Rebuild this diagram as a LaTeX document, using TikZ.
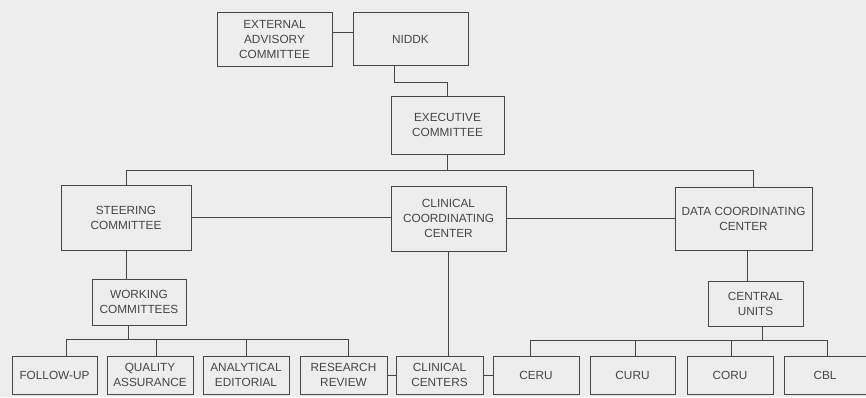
\documentclass[tikz,border=0pt]{standalone}
\usepackage{fontspec}
\setmainfont{Liberation Sans}
\definecolor{paper}{RGB}{237,237,237}
\definecolor{ink}{RGB}{70,70,70}

\begin{document}
\begin{tikzpicture}[x=1pt,y=-1pt,line width=0.8pt,draw=ink]
	\tikzset{box/.style={draw=ink,fill=paper,text=ink,inner sep=0pt,align=center,
			font=\fontsize{11.8}{15}\selectfont},
		small/.style={box,minimum height=38}}
	\useasboundingbox[fill=paper] (0,0) rectangle (866,397);

	\node[box,minimum width=115,minimum height=54] (eac) at (274.5,39) {EXTERNAL\\ADVISORY\\COMMITTEE};
	\node[box,minimum width=115,minimum height=53] (niddk) at (410.5,39) {NIDDK};
	\node[box,minimum width=113,minimum height=58] (exec) at (447.5,125) {EXECUTIVE\\COMMITTEE};
	\node[box,minimum width=130,minimum height=65] (steer) at (126,217.5) {STEERING\\COMMITTEE};
	\node[box,minimum width=115,minimum height=65] (ccc) at (448.5,218.5) {CLINICAL\\COORDINATING\\CENTER};
	\node[box,minimum width=137,minimum height=63] (dcc) at (743.5,218.5) {DATA COORDINATING\\CENTER};
	\node[box,minimum width=94,minimum height=46] (wc) at (139,302) {WORKING\\COMMITTEES};
	\node[box,minimum width=95,minimum height=45] (cu) at (755.5,303.5) {CENTRAL\\UNITS};

	\node[small,minimum width=85] (fu) at (54.5,375) {FOLLOW-UP};
	\node[small,minimum width=86] (qa) at (150,375) {QUALITY\\ASSURANCE};
	\node[small,minimum width=86] (ae) at (246,375) {ANALYTICAL\\EDITORIAL};
	\node[small,minimum width=87] (rr) at (343.5,375) {RESEARCH\\REVIEW};
	\node[small,minimum width=87] (cc) at (439.5,375) {CLINICAL\\CENTERS};
	\node[small,minimum width=86] (ceru) at (536,375) {CERU};
	\node[small,minimum width=85] (curu) at (632.5,375) {CURU};
	\node[small,minimum width=86] (coru) at (730,375) {CORU};
	\node[small,minimum width=82] (cbl) at (825,375) {CBL};

	% top of the chart
	\draw ([yshift=7]eac.east) -- ([yshift=7]niddk.west);
	\draw ([xshift=-16.5]niddk.south) -- ++(0,16) -| (exec.north);
	\draw (exec.south) -- ++(0,16) coordinate (ebus);
	\draw (steer.north) |- (ebus) -| ([xshift=9.5]dcc.north);
	\draw (steer.east) -- (steer.east -| ccc.west);
	\draw (ccc.east) -- (ccc.east -| dcc.west);

	% middle level
	\draw (steer.south) -- (steer.south |- wc.north);
	\draw (ccc.south) -- (ccc.south |- cc.north);
	\draw ([xshift=3.5]dcc.south) -- ([xshift=3.5]dcc.south |- cu.north);

	% working committees
	\draw ([xshift=-11]wc.south) -- ++(0,15);
	\draw ([xshift=11.5]fu.north) -- ++(0,-16) -| ([xshift=4.5]rr.north);
	\foreach \n/\s in {qa/6,ae/0}
		\draw ([xshift=\s]\n.north) -- ++(0,-16);

	% central units
	\draw ([xshift=6.5]cu.south) -- ++(0,15);
	\draw ([xshift=-6]ceru.north) -- ++(0,-15) -| ([xshift=2]cbl.north);
	\foreach \n/\s in {curu/2.5,coru/1}
		\draw ([xshift=\s]\n.north) -- ++(0,-15);

	\draw (rr.east) -- (cc.west);
	\draw (cc.east) -- (ceru.west);
\end{tikzpicture}
\end{document}
